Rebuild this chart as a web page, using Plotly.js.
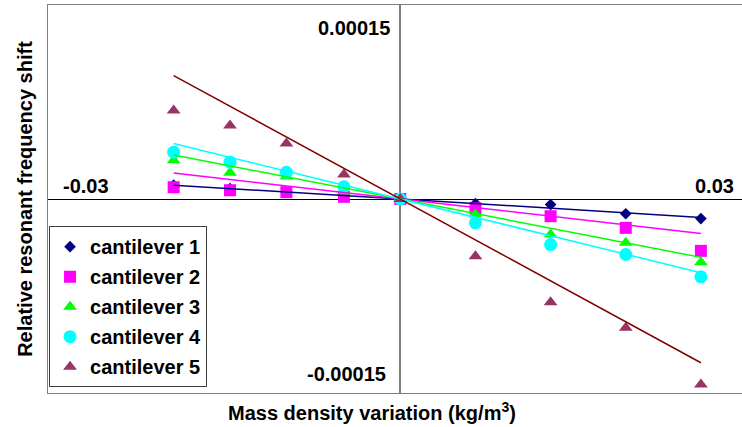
<!DOCTYPE html>
<html>
<head>
<meta charset="utf-8">
<script src="https://cdn.plot.ly/plotly-3.0.1.min.js"></script>
<style>html,body{margin:0;padding:0;background:#fff;}#chart{width:742px;height:427px;}</style>
</head>
<body>
<div id="chart"></div>
<script>
// ---- data ----
const massDensity = [-0.0193, -0.0145, -0.0097, -0.0048, 0, 0.0064, 0.0128, 0.0192, 0.0256];
const seriesNames = ["cantilever 1", "cantilever 2", "cantilever 3", "cantilever 4", "cantilever 5"];
const cantilever1 = [1.07e-5, 0.80e-5, 0.54e-5, 0.27e-5, 0, -0.35e-5, -0.43e-5, -1.14e-5, -1.51e-5];
const cantilever2 = [0.91e-5, 0.68e-5, 0.53e-5, 0.17e-5, 0, -0.73e-5, -1.33e-5, -2.23e-5, -4.01e-5];
const cantilever3 = [3.00e-5, 2.03e-5, 1.74e-5, 0.58e-5, 0, -1.20e-5, -2.74e-5, -3.39e-5, -4.89e-5];
const cantilever4 = [3.62e-5, 2.85e-5, 2.07e-5, 0.94e-5, 0, -1.84e-5, -3.52e-5, -4.29e-5, -6.02e-5];
const cantilever5 = [6.84e-5, 5.68e-5, 4.29e-5, 1.89e-5, 0, -4.42e-5, -7.98e-5, -9.96e-5, -14.34e-5];
const xTickVals = [-0.03, 0.03];
const xTickText = ["-0.03", "0.03"];
const yTickVals = [0.00015, -0.00015];
const yTickText = ["0.00015", "-0.00015"];
const xRange = [-0.03, 0.0291];
const yRange = [-0.00015, 0.00015];

// ---- styles ----
const allSeries = [cantilever1, cantilever2, cantilever3, cantilever4, cantilever5];
const markerStyles = [
  {symbol: "diamond", size: 9, color: "#000080"},
  {symbol: "square", size: 12, color: "#FF00FF"},
  {symbol: "triangle-up", size: 12, color: "#00FF00"},
  {symbol: "circle", size: 13, color: "#00FFFF"},
  {symbol: "triangle-up", size: 12, color: "#993366"}
];
const lineColors = ["#000080", "#FF00FF", "#00FF00", "#00FFFF", "#800000"];
const FONT = "Liberation Sans, Arial, sans-serif";

const traces = [];
allSeries.forEach((ys, i) => {
  traces.push({
    type: "scatter", mode: "markers", name: seriesNames[i],
    x: massDensity, y: ys, legendgroup: "g" + i,
    marker: {symbol: markerStyles[i].symbol, size: markerStyles[i].size, color: markerStyles[i].color, line: {width: 0}},
    cliponaxis: false
  });
});
// linear trendlines through the origin (least squares), drawn over the data range
allSeries.forEach((ys, i) => {
  let sxy = 0, sxx = 0;
  massDensity.forEach((x, k) => { sxy += x * ys[k]; sxx += x * x; });
  const slope = sxy / sxx;
  const xmin = Math.min(...massDensity), xmax = Math.max(...massDensity);
  traces.push({
    type: "scatter", mode: "lines", showlegend: false, hoverinfo: "skip",
    x: [xmin, xmax], y: [slope * xmin, slope * xmax],
    line: {color: lineColors[i], width: 1.5}
  });
});

const tickFont = {family: FONT, size: 20, color: "#000", weight: "bold"};
const annotations = [
  {xref: "x", yref: "y", x: xTickVals[0], y: 0, text: xTickText[0], showarrow: false,
   xanchor: "left", yanchor: "bottom", xshift: 13, yshift: 0, font: tickFont},
  {xref: "paper", yref: "y", x: 1, y: 0, text: xTickText[1], showarrow: false,
   xanchor: "right", yanchor: "bottom", xshift: -6, yshift: 0, font: tickFont},
  {xref: "x", yref: "y", x: 0, y: yTickVals[0], text: yTickText[0], showarrow: false,
   xanchor: "right", yanchor: "top", xshift: -8, yshift: -10, font: tickFont},
  {xref: "x", yref: "y", x: 0, y: yTickVals[1], text: yTickText[1], showarrow: false,
   xanchor: "right", yanchor: "bottom", xshift: -12, yshift: 6, font: tickFont},
  {xref: "paper", yref: "paper", x: 0.467, y: 0, text: "Mass density variation (kg/m<sup>3</sup>)",
   showarrow: false, xanchor: "center", yanchor: "top", yshift: -4,
   font: {family: FONT, size: 20, color: "#000", weight: "bold"}}
];

const layout = {
  width: 742, height: 427,
  margin: {l: 48, r: 0, t: 5, b: 34, pad: 0},
  paper_bgcolor: "#fff", plot_bgcolor: "#fff",
  showlegend: true,
  font: {family: FONT, color: "#000"},
  xaxis: {
    range: xRange, showgrid: false, showticklabels: false, ticks: "",
    zeroline: true, zerolinecolor: "#808080", zerolinewidth: 2,
    showline: true, linecolor: "#808080", linewidth: 1, mirror: true
  },
  yaxis: {
    range: yRange, showgrid: false, showticklabels: false, ticks: "",
    zeroline: true, zerolinecolor: "#000", zerolinewidth: 1,
    showline: true, linecolor: "#808080", linewidth: 1, mirror: false,
    title: {text: "Relative resonant frequency shift", standoff: 9,
            font: {family: FONT, size: 20, color: "#000", weight: "bold"}}
  },
  legend: {
    x: 0.0015, y: 0.43, xanchor: "left", yanchor: "top",
    bgcolor: "#fff", bordercolor: "#404040", borderwidth: 1,
    font: {family: FONT, size: 20, color: "#000", weight: "bold"},
    tracegroupgap: 1, traceorder: "grouped"
  },
  annotations: annotations
};

Plotly.newPlot("chart", traces, layout, {staticPlot: true, displayModeBar: false});
</script>
</body>
</html>
